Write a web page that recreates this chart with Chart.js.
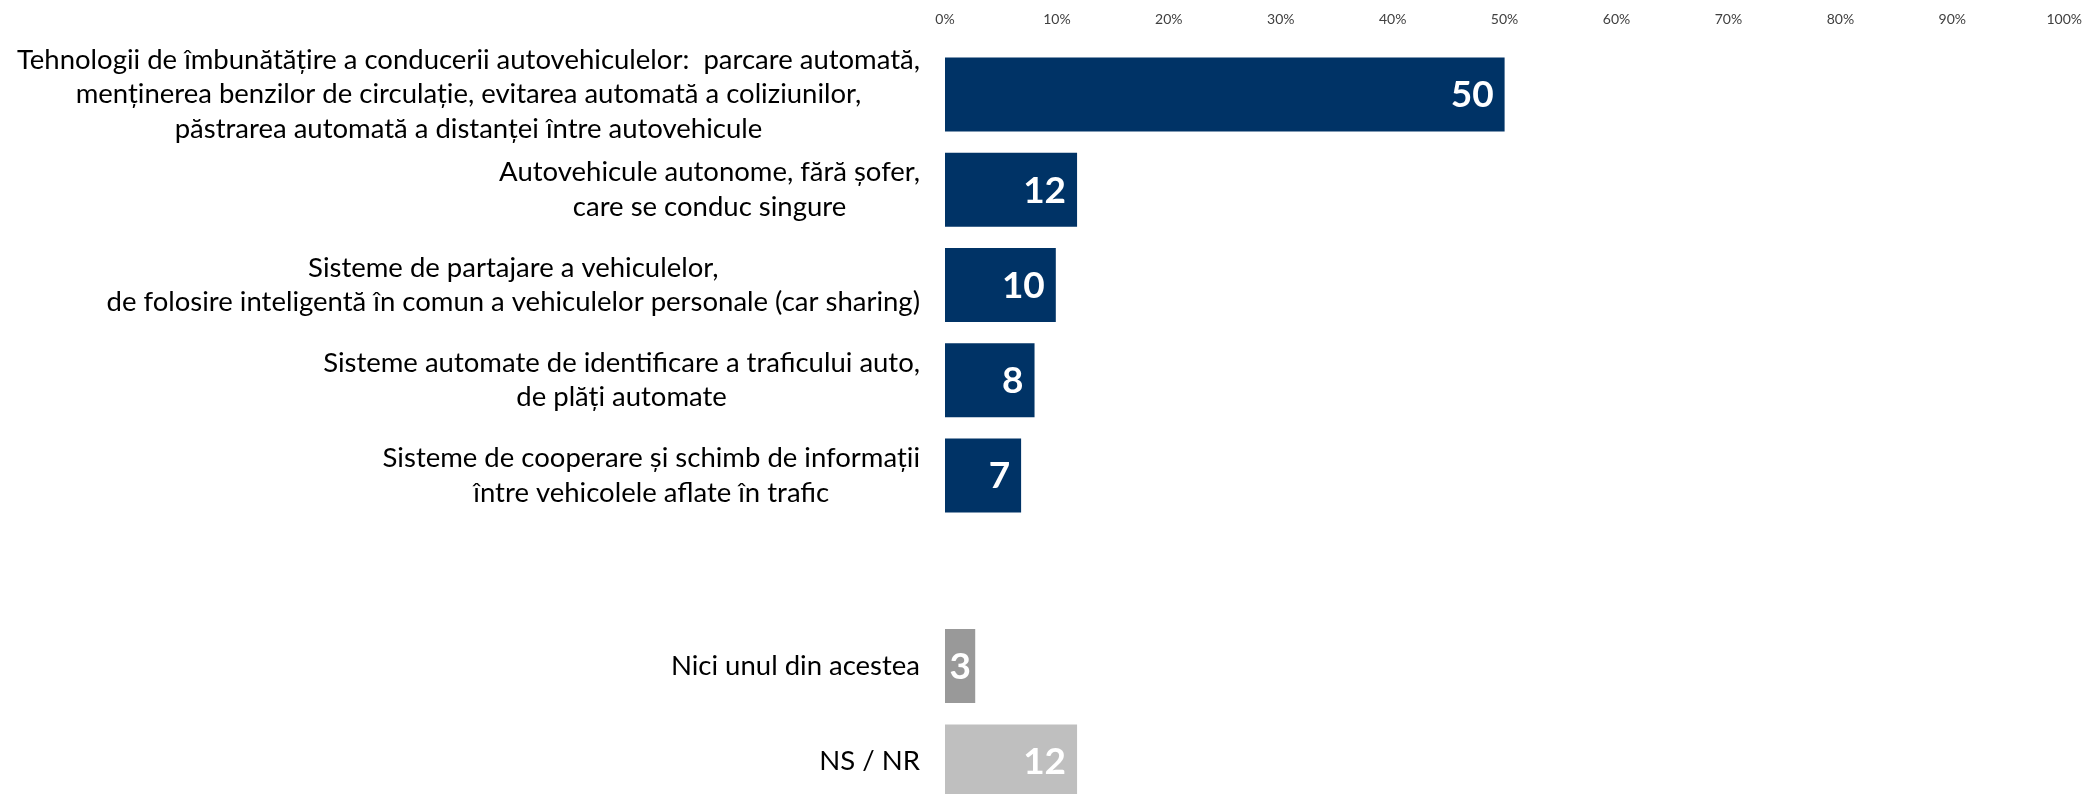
<!DOCTYPE html>
<html>
<head>
<meta charset="utf-8">
<script src="https://cdn.jsdelivr.net/npm/chart.js@4/dist/chart.umd.min.js"></script>
<style>
  html, body { margin: 0; padding: 0; background: #fff; overflow: hidden; }
  #wrap { position: relative; width: 2093px; height: 812px; }
</style>
</head>
<body>
<div id="wrap"><canvas id="chart"></canvas></div>
<script>
// categories, one array of lines per bar ('' = empty gap slot)
const categories = [
    ['Tehnologii de îmbunătățire a conducerii autovehiculelor:  parcare automată,',
     'menținerea benzilor de circulație, evitarea automată a coliziunilor,',
     'păstrarea automată a distanței între autovehicule'],
    ['Autovehicule autonome, fără șofer,', 'care se conduc singure'],
    ['Sisteme de partajare a vehiculelor,',
     'de folosire inteligentă în comun a vehiculelor personale (car sharing)'],
    ['Sisteme automate de identificare a traficului auto,', 'de plăți automate'],
    ['Sisteme de cooperare și schimb de informații', 'între vehicolele aflate în trafic'],
    [''],
    ['Nici unul din acestea'],
    ['NS / NR']
];
const values = [50, 11.8, 9.9, 8, 6.8, null, 2.7, 11.8];
const barColors = ['#003366', '#003366', '#003366', '#003366', '#003366', '#003366', '#999999', '#bfbfbf'];
const xTicks = [0, 10, 20, 30, 40, 50, 60, 70, 80, 90, 100];

const labelGap = 25;
const lineH = 34.7;

const sideLabels = {
    id: 'sideLabels',
    afterDraw(chart) {
        const ctx = chart.ctx;
        const y = chart.scales.y;
        ctx.save();
        // category labels: block right-aligned to the axis, lines centred inside it
        ctx.font = '27.5px Lato';
        ctx.fillStyle = '#000';
        ctx.textBaseline = 'middle';
        ctx.textAlign = 'center';
        categories.forEach((lines, i) => {
            const w = Math.max(...lines.map(l => ctx.measureText(l).width));
            const cx = chart.chartArea.left - labelGap - w / 2;
            const cy = y.getPixelForValue(i);
            lines.forEach((l, k) => ctx.fillText(l, cx, cy + (k - (lines.length - 1) / 2) * lineH));
        });
        // value labels inside bar end
        ctx.font = 'bold 37px Lato';
        ctx.fillStyle = '#fff';
        ctx.textAlign = 'right';
        chart.getDatasetMeta(0).data.forEach((bar, i) => {
            if (values[i] == null) return;
            const txt = String(Math.round(values[i]));
            const tw = ctx.measureText(txt).width;
            const barW = bar.x - bar.base;
            const pad = Math.min(11, (barW - tw) / 2);
            ctx.fillText(txt, bar.x - pad, bar.y + 1);
        });
        ctx.restore();
    }
};

new Chart(document.getElementById('chart'), {
    type: 'bar',
    data: {
        labels: categories.map(c => c.join(' ')),
        datasets: [{
            data: values,
            backgroundColor: barColors,
            barPercentage: 0.776,
            categoryPercentage: 1
        }]
    },
    options: {
        indexAxis: 'y',
        responsive: true,
        maintainAspectRatio: false,
        animation: false,
        layout: { padding: { left: 937, right: 28, top: 0, bottom: 3 } },
        plugins: {
            legend: { display: false },
            tooltip: { enabled: false }
        },
        scales: {
            x: {
                position: 'top',
                min: 0,
                max: 100,
                afterBuildTicks: scale => { scale.ticks = xTicks.map(v => ({ value: v })); },
                ticks: {
                    callback: v => v + '%',
                    font: { family: 'Lato', size: 14 },
                    color: '#404040',
                    padding: 11,
                    maxRotation: 0
                },
                grid: { display: false },
                border: { display: false }
            },
            y: {
                ticks: { display: false },
                grid: { display: false },
                border: { display: false }
            }
        }
    },
    plugins: [sideLabels]
});
</script>
</body>
</html>
